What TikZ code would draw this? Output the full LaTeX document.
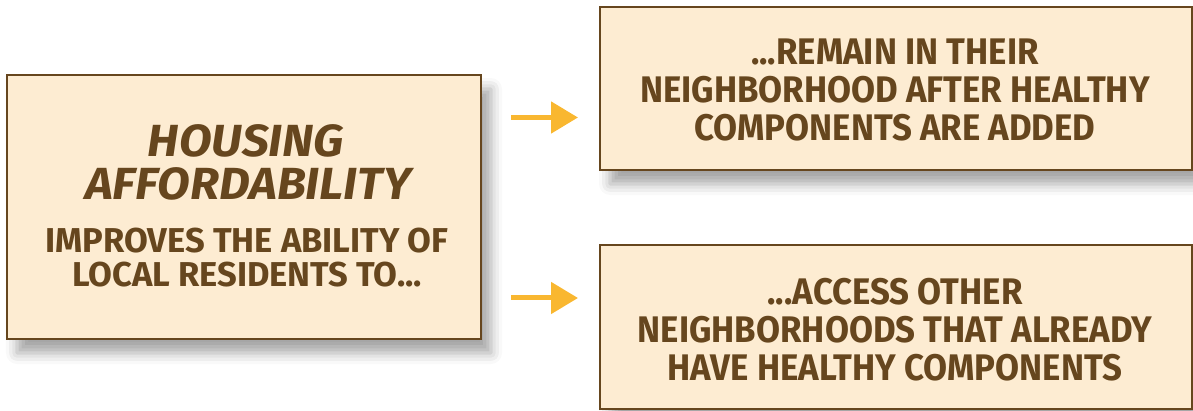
\documentclass[tikz,border=0pt]{standalone}
\usepackage{fontspec}
\setmainfont{Fira Sans}
\newfontfamily\condfont[FakeStretch=0.94]{Fira Sans}
\newfontfamily\subfont[FakeStretch=1.0]{Fira Sans}
\newfontfamily\titlefont[FakeStretch=1.06]{Fira Sans}
\usetikzlibrary{shadows.blur,arrows.meta}
\definecolor{boxfill}{HTML}{FDECD2}
\definecolor{brownc}{HTML}{66461E}
\definecolor{arrowc}{HTML}{F9B730}
\begin{document}
\begin{tikzpicture}[x=1pt,y=-1pt,
  box/.style={draw=brownc, line width=2pt, fill=boxfill, inner sep=0pt,
    blur shadow={shadow xshift=10pt, shadow yshift=-14pt, shadow blur radius=11pt, shadow opacity=35}},
  title/.style={text=brownc, font=\titlefont\fontsize{45}{45}\selectfont\bfseries\itshape, anchor=base, inner sep=0pt},
  sub/.style={text=brownc, font=\subfont\fontsize{34.5}{34}\selectfont\bfseries, anchor=base, inner sep=0pt},
  rtext/.style={text=brownc, font=\condfont\fontsize{37}{38}\selectfont\bfseries, align=center, inner sep=0pt},
  arr/.style={draw=arrowc, line width=5pt, -{Triangle[length=27pt,width=31pt]}}]
\useasboundingbox (0,0) rectangle (1193,411);
\node[box, minimum width=474pt, minimum height=264pt] (left) at (244,207) {};
\node[box, minimum width=592pt, minimum height=163pt] (top) at (896,88.5) {};
\node[box, minimum width=592pt, minimum height=164pt] (bot) at (896,327) {};
\node[title] (t1) at (246,157) {HOUSING};
\node[title] (t2) at (248,200) {AFFORDABILITY};
\node[sub] (s1) at (247,253) {IMPROVES THE ABILITY OF};
\node[sub] (s2) at (247,287) {LOCAL RESIDENTS TO...};
\node[rtext] (tt) at (895,90) {...REMAIN IN THEIR\\NEIGHBORHOOD AFTER HEALTHY\\COMPONENTS ARE ADDED};
\node[rtext] (bt) at (895,330) {...ACCESS OTHER\\NEIGHBORHOODS THAT ALREADY\\HAVE HEALTHY COMPONENTS};
\coordinate (a1s) at (511,117.5);
\coordinate (a1e) at (578,117.5);
\coordinate (a2s) at (511,298);
\coordinate (a2e) at (578,298);
\draw[arr] (a1s) -- (a1e);
\draw[arr] (a2s) -- (a2e);
\end{tikzpicture}
\end{document}
